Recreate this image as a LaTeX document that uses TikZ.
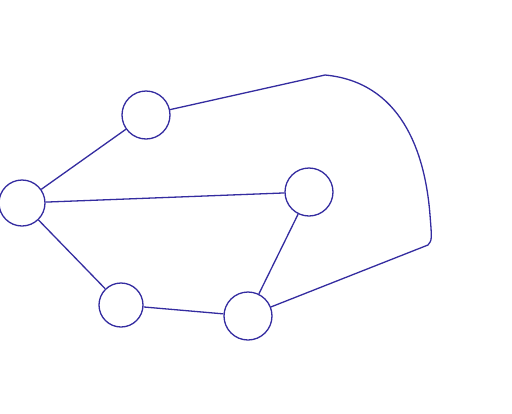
\documentclass[tikz,border=0pt]{standalone}
\usepackage{tikz}
\usetikzlibrary{positioning,calc}
\definecolor{inkblue}{RGB}{52,44,160}
\tikzset{vert/.style={circle,draw=inkblue,line width=1.3pt,minimum size=46pt,inner sep=0pt},
  edge/.style={draw=inkblue,line width=1.3pt}}
\begin{document}
\begin{tikzpicture}[x=1pt,y=-1pt]
\useasboundingbox[fill=white] (0,0) rectangle (512,413);
\node[vert,minimum size=48pt] (top) at (146,115) {};
\node[vert,minimum size=46pt] (left) at (22,203) {};
\node[vert,minimum size=48pt] (right) at (309,192) {};
\node[vert,minimum size=44pt] (low) at (121,305) {};
\node[vert,minimum size=48pt] (bot) at (248,316) {};
\coordinate (ctop) at (325,75);
\coordinate (cside) at (428,245);
\draw[edge] (top) -- (left);
\draw[edge] (left) -- (right);
\draw[edge] (left) -- (low);
\draw[edge] (low) -- (bot);
\draw[edge] (bot) -- (right);
\draw[edge,line join=round] (top) -- (ctop) .. controls (400,82) and (425,150) .. (430,215) .. controls (432,240) .. (cside) -- (bot);
\end{tikzpicture}
\end{document}
